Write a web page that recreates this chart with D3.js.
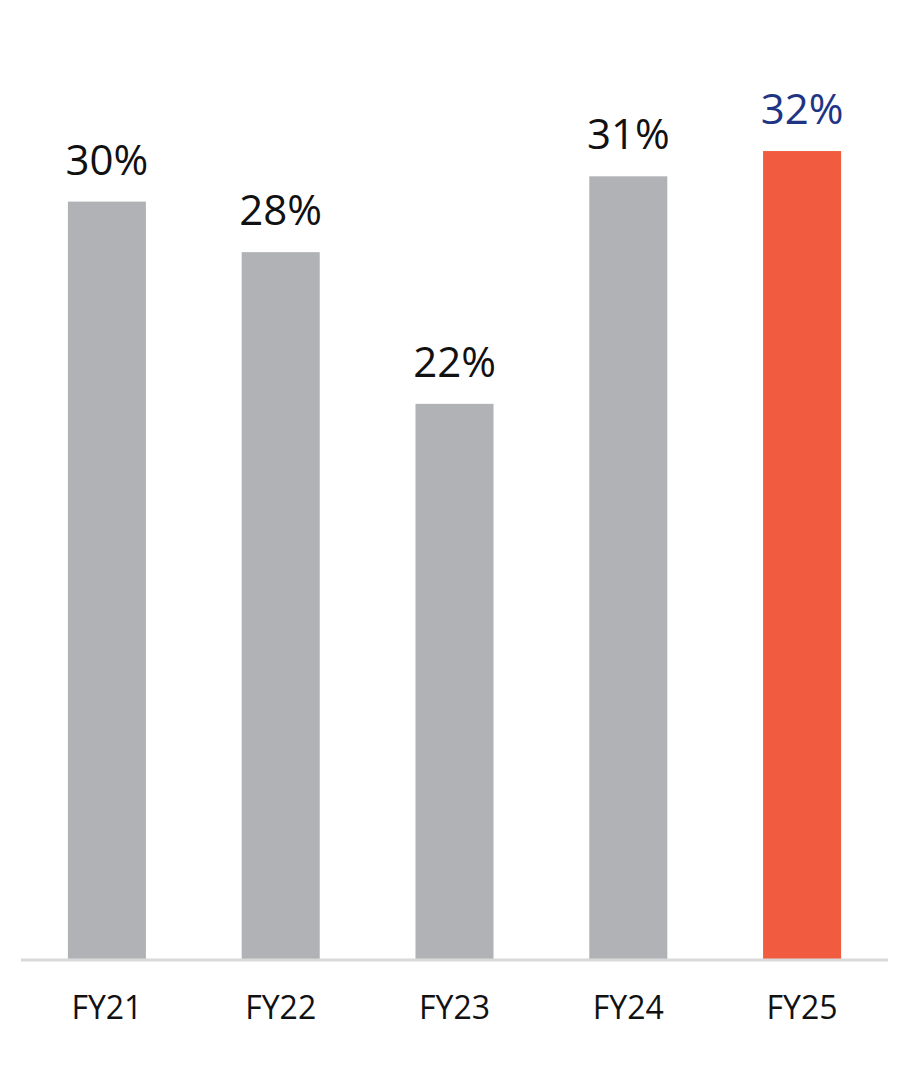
<!DOCTYPE html>
<html><head><meta charset="utf-8">
<script src="https://cdn.jsdelivr.net/npm/d3@7"></script>
<style>html,body{margin:0;padding:0;background:#fff;}</style>
</head><body>
<script>
const categories = ["FY21","FY22","FY23","FY24","FY25"];
const values = [30, 28, 22, 31, 32];
const labels = ["30%","28%","22%","31%","32%"];
const barColors = ["#b1b2b6","#b1b2b6","#b1b2b6","#b1b2b6","#f15c40"];
const labelColors = ["#111111","#111111","#111111","#111111","#1f3584"];

const W = 900, H = 1069;
const svg = d3.select("body").append("svg").attr("width", W).attr("height", H);
const x = d3.scaleBand().domain(categories).range([20, 889]).paddingInner(0.551).paddingOuter(0.2755);
const y = d3.scaleLinear().domain([0, 35]).range([960, 960 - 35 * 25.28]);

svg.selectAll("rect.bar").data(categories).enter().append("rect")
  .attr("x", d => x(d)).attr("width", x.bandwidth())
  .attr("y", (d,i) => y(values[i])).attr("height", (d,i) => y(0) - y(values[i]))
  .attr("fill", (d,i) => barColors[i]);

svg.append("line").attr("x1", 21).attr("x2", 888).attr("y1", 960).attr("y2", 960)
  .attr("stroke", "#d9d9d9").attr("stroke-width", 3);

svg.selectAll("text.val").data(categories).enter().append("text")
  .attr("x", d => x(d) + x.bandwidth()/2).attr("y", (d,i) => y(values[i]) - 27)
  .attr("text-anchor", "middle").attr("font-family", "Open Sans").attr("font-size", 42)
  .attr("fill", (d,i) => labelColors[i]).text((d,i) => labels[i]);

const xAxis = d3.axisBottom(x).tickSize(0).tickPadding(0);
const g = svg.append("g").attr("transform", "translate(0,1019)").call(xAxis);
g.select(".domain").remove();
g.selectAll("text").attr("font-family", "Open Sans").attr("font-size", 32).attr("fill", "#111")
  .attr("dy", 0).attr("y", 0);
</script>
</body></html>
